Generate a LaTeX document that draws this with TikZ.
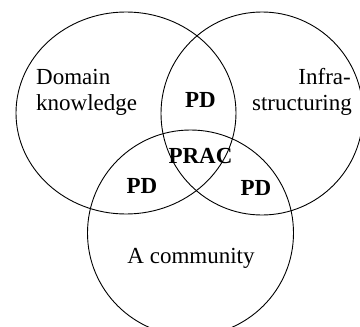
\documentclass[tikz,border=0pt]{standalone}
\usepackage{fontspec}
\setmainfont{Liberation Serif}
\begin{document}
\begin{tikzpicture}[x=1pt,y=-1pt,
  ring/.style={draw=black,line width=0.9pt},
  lbl/.style={inner sep=0pt,font=\fontsize{23}{26}\selectfont},
  overlap/.style={inner sep=0pt,font=\fontsize{23}{26}\selectfont\bfseries}]
  \useasboundingbox (0,0) rectangle (360,327);
  \clip (0,0) rectangle (360,327);
  % the three sets
  \draw[ring] (126,113) ellipse [x radius=110, y radius=101];
  \draw[ring] (262,113.5) ellipse [x radius=101, y radius=101.5];
  \draw[ring] (190.5,233) circle [radius=103];
  % set names
  \node[lbl,anchor=base west] (dom1) at (36,84) {Domain};
  \node[lbl,anchor=base west] (dom2) at (36,110) {knowledge};
  \node[lbl,anchor=base east] (inf1) at (351,84) {Infra-};
  \node[lbl,anchor=base east] (inf2) at (352,110) {structuring};
  \node[lbl,anchor=base] (com) at (191,263) {A community};
  % overlaps
  \node[overlap,anchor=base] (pdtop) at (200.5,107) {PD};
  \node[overlap,anchor=base] (prac) at (200.5,163) {PRAC};
  \node[overlap,anchor=base] (pdleft) at (142,193) {PD};
  \node[overlap,anchor=base] (pdright) at (256,195) {PD};
\end{tikzpicture}
\end{document}
